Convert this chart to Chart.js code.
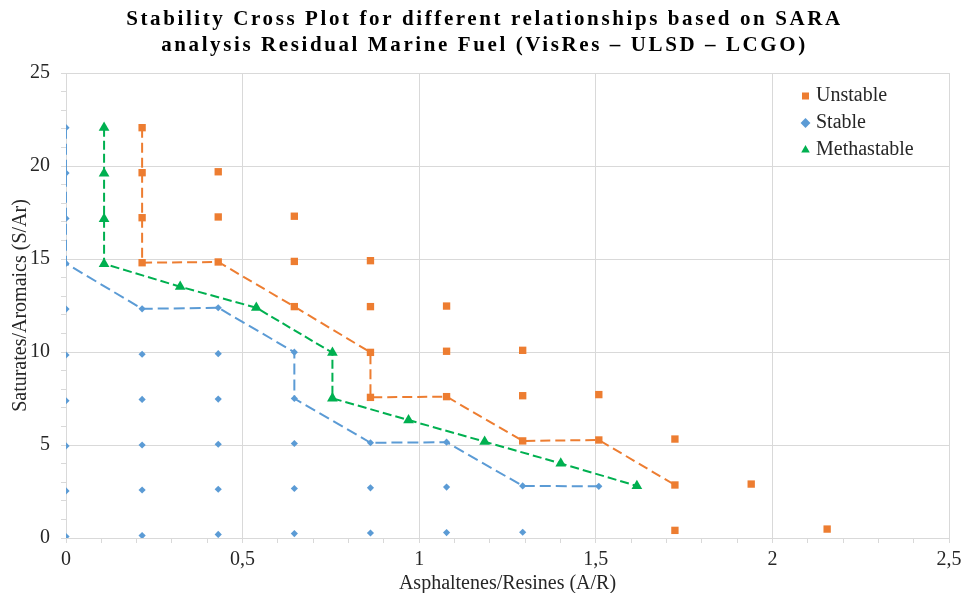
<!DOCTYPE html>
<html>
<head>
<meta charset="utf-8">
<script src="https://cdn.jsdelivr.net/npm/chart.js@4/dist/chart.umd.min.js"></script>
<style>
  html, body { margin: 0; padding: 0; background: #fff; }
  #wrap { width: 963px; height: 593px; }
</style>
</head>
<body>
<div id="wrap"><canvas id="chart"></canvas></div>
<script>
// Title / axis text
const titleLines = [
    'Stability Cross Plot for different relationships based on SARA',
    'analysis Residual Marine Fuel (VisRes \u2013 ULSD \u2013 LCGO)'
];
const xTitle = 'Asphaltenes/Resines (A/R)';
const yTitle = 'Saturates/Aromaics (S/Ar)';
const seriesNames = ['Unstable', 'Stable', 'Methastable'];

// Unstable (orange squares)
const unstableX = [0.2155, 0.2155, 0.2155, 0.2155, 0.431, 0.431, 0.431, 0.6465, 0.6465, 0.6465,
    0.862, 0.862, 0.862, 0.862, 1.0775, 1.0775, 1.0775, 1.293, 1.293, 1.293,
    1.5085, 1.5085, 1.724, 1.724, 1.724, 1.94, 2.155];
const unstableY = [22.06, 19.64, 17.22, 14.8, 19.69, 17.26, 14.84, 17.3, 14.87, 12.44,
    14.91, 12.44, 9.98, 7.56, 12.47, 10.04, 7.6, 10.09, 7.65, 5.22,
    7.71, 5.27, 5.32, 2.85, 0.41, 2.9, 0.48];

// Stable (blue diamonds)
const stableX = [0, 0, 0, 0, 0, 0, 0, 0, 0, 0,
    0.2155, 0.2155, 0.2155, 0.2155, 0.2155, 0.2155,
    0.431, 0.431, 0.431, 0.431, 0.431, 0.431,
    0.6465, 0.6465, 0.6465, 0.6465, 0.6465,
    0.862, 0.862, 0.862, 1.0775, 1.0775, 1.0775, 1.293, 1.293, 1.5085];
const stableY = [22.06, 19.62, 17.18, 14.76, 12.31, 9.84, 7.38, 4.95, 2.53, 0.08,
    12.32, 9.88, 7.45, 5.0, 2.58, 0.13,
    12.38, 9.91, 7.47, 5.04, 2.62, 0.19,
    9.99, 7.5, 5.08, 2.66, 0.24,
    5.12, 2.7, 0.27, 5.15, 2.74, 0.29, 2.8, 0.31, 2.78];

// Methastable (green triangles, joined)
const methaX = [0.1078, 0.1078, 0.1078, 0.1078, 0.3233, 0.5388, 0.7543, 0.7543, 0.9698, 1.1853, 1.4008, 1.6163];
const methaY = [22.06, 19.6, 17.15, 14.74, 13.51, 12.38, 9.96, 7.51, 6.34, 5.18, 4.01, 2.8];

// Boundary lines
const unstableLineX = [0.2155, 0.2155, 0.2155, 0.2155, 0.431, 0.6465, 0.862, 0.862, 1.0775, 1.293, 1.5085, 1.724];
const unstableLineY = [22.06, 19.64, 17.22, 14.8, 14.84, 12.44, 9.98, 7.56, 7.6, 5.22, 5.27, 2.85];
const stableLineX = [0, 0, 0, 0, 0.2155, 0.431, 0.6465, 0.6465, 0.862, 1.0775, 1.293, 1.5085];
const stableLineY = [22.06, 19.62, 17.18, 14.76, 12.32, 12.38, 9.99, 7.5, 5.12, 5.15, 2.8, 2.78];

// Axis ranges
const xMin = 0, xMax = 2.5, xMinor = 0.1, xMajor = 0.5;
const yMin = 0, yMax = 25, yMinor = 1, yMajor = 5;

const ORANGE = '#ED7D31', BLUE = '#5B9BD5', GREEN = '#00B050';
const GRID = '#d9d9d9', TEXT = '#262626';
const SERIF = "'Liberation Serif', 'Times New Roman', serif";

const toPts = (xs, ys) => xs.map((x, i) => ({ x: x, y: ys[i] }));
const onStep = (v, step) => Math.abs(v / step - Math.round(v / step)) < 1e-6;

// title letter spacing + legend placement inside the plot (top right)
const layoutTweaks = {
    id: 'layoutTweaks',
    beforeDraw(chart) {
        const t = chart.titleBlock;
        if (t && !t._spaced) {
            const orig = t.draw;
            t.draw = function () {
                this.ctx.save();
                this.ctx.translate(10, 0);
                this.ctx.letterSpacing = '2.6px';
                orig.apply(this, arguments);
                this.ctx.restore();
            };
            t._spaced = true;
        }
        const lg = chart.legend;
        const area = chart.chartArea;
        if (lg && area) {
            lg.left = 798;
            lg.top = 79;
            lg.right = area.right;
            lg.bottom = area.bottom;
        }
    }
};

const ctx = document.getElementById('chart').getContext('2d');
new Chart(ctx, {
    type: 'scatter',
    data: {
        datasets: [
            {
                label: seriesNames[0],
                data: toPts(unstableX, unstableY),
                pointStyle: 'rect',
                pointRadius: 5.2,
                backgroundColor: ORANGE,
                borderColor: ORANGE,
                pointBorderWidth: 0
            },
            {
                label: seriesNames[1],
                data: toPts(stableX, stableY),
                pointStyle: 'rectRot',
                pointRadius: 3.6,
                backgroundColor: BLUE,
                borderColor: BLUE,
                pointBorderWidth: 0
            },
            {
                label: seriesNames[2],
                data: toPts(methaX, methaY),
                showLine: true,
                pointStyle: 'triangle',
                pointRadius: 6.2,
                backgroundColor: GREEN,
                borderColor: GREEN,
                pointBorderWidth: 0,
                borderWidth: 2,
                borderDash: [9, 4],
                tension: 0
            },
            {
                label: 'unstableLine',
                data: toPts(unstableLineX, unstableLineY),
                showLine: true,
                pointRadius: 0,
                borderColor: ORANGE,
                borderWidth: 2,
                borderDash: [10, 5],
                tension: 0
            },
            {
                label: 'stableLine',
                data: toPts(stableLineX, stableLineY),
                showLine: true,
                pointRadius: 0,
                borderColor: BLUE,
                borderWidth: 2,
                borderDash: [11, 5],
                tension: 0
            }
        ]
    },
    options: {
        responsive: true,
        maintainAspectRatio: false,
        animation: false,
        events: [],
        layout: { padding: { left: 0, right: 14, top: 0, bottom: 0 } },
        plugins: {
            title: {
                display: true,
                text: titleLines,
                color: '#000',
                font: { family: SERIF, size: 21, weight: 'bold', lineHeight: 26 / 21 },
                padding: { top: 7, bottom: 14 }
            },
            legend: {
                position: 'chartArea',
                align: 'start',
                labels: {
                    usePointStyle: true,
                    boxWidth: 1,
                    boxHeight: 7,
                    padding: 7,
                    color: TEXT,
                    font: { family: SERIF, size: 20 },
                    filter: item => item.datasetIndex < 3
                }
            },
            tooltip: { enabled: false }
        },
        scales: {
            x: {
                type: 'linear',
                min: xMin,
                max: xMax,
                afterFit: s => { s.height = 55; s.paddingRight = 0; s.paddingLeft = 0; },
                ticks: {
                    stepSize: xMinor,
                    autoSkip: false,
                    maxRotation: 0,
                    padding: 5,
                    color: TEXT,
                    font: { family: SERIF, size: 20 },
                    callback: v => onStep(v, xMajor) ? String(Math.round(v * 10) / 10).replace('.', ',') : ''
                },
                grid: {
                    color: c => (c.tick && onStep(c.tick.value, xMajor)) ? GRID : 'rgba(0,0,0,0)',
                    tickColor: GRID,
                    tickLength: 5,
                    lineWidth: 1
                },
                border: { color: GRID },
                title: {
                    display: true,
                    text: xTitle,
                    color: TEXT,
                    font: { family: SERIF, size: 20, lineHeight: 1 },
                    padding: { top: 0, bottom: -1 }
                }
            },
            y: {
                type: 'linear',
                min: yMin,
                max: yMax,
                afterFit: s => { s.width = 66; },
                ticks: {
                    stepSize: yMinor,
                    autoSkip: false,
                    padding: 11,
                    color: TEXT,
                    font: { family: SERIF, size: 20 },
                    callback: v => onStep(v, yMajor) ? String(Math.round(v)) : ''
                },
                grid: {
                    color: c => (c.tick && onStep(c.tick.value, yMajor)) ? GRID : 'rgba(0,0,0,0)',
                    tickColor: GRID,
                    tickLength: 5,
                    lineWidth: 1
                },
                border: { color: GRID },
                title: {
                    display: true,
                    text: yTitle,
                    color: TEXT,
                    font: { family: SERIF, size: 20, lineHeight: 1 },
                    padding: { top: 11, bottom: 0 }
                }
            }
        }
    },
    plugins: [layoutTweaks]
});
</script>
</body>
</html>
